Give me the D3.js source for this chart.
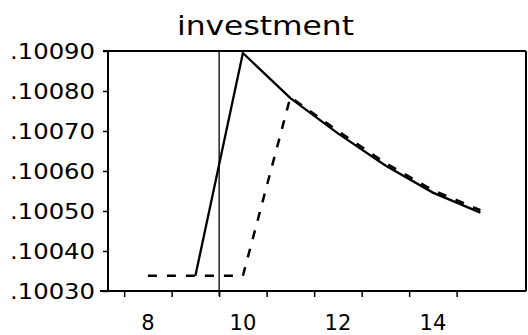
<!DOCTYPE html>
<html lang="en">
<head>
    <meta charset="UTF-8">
    <title>investment</title>
    <script src="https://d3js.org/d3.v7.min.js"></script>
    <style>
        body { margin: 0; background: #fff; }
        text { font-family: "DejaVu Sans", sans-serif; fill: #000; }
        .frame line { stroke: #000; stroke-width: 2px; }
        .tick line { stroke: #000; stroke-width: 1.5px; }
    </style>
</head>
<body>
<script>
    var width = 528, height = 335;

    // values
    var periods = [8, 9, 10, 11, 12, 13, 14, 15];
    var solidVals = [null, .100338, .100895, .100782, .100694, .100614, .100546, .100496];
    var dashedVals = [.100338, .100338, .100338, .100785, .100700, .100620, .100552, .100502];
    var xTickVals = [7.5, 8.5, 9.5, 10.5, 11.5, 12.5, 13.5, 14.5];
    var xLabelVals = [8, 10, 12, 14];
    var yTickVals = [.1003, .1004, .1005, .1006, .1007, .1008, .1009];
    var markerX = 9.5;

    var x = d3.scaleLinear().domain([7.16, 15.96]).range([108, 526]);
    var y = d3.scaleLinear().domain([.1003, .1009]).range([291, 51]);

    var svg = d3.select("body").append("svg")
        .attr("width", width)
        .attr("height", height);

    svg.append("text")
        .attr("x", 177)
        .attr("y", 35)
        .attr("textLength", 177)
        .attr("lengthAdjust", "spacingAndGlyphs")
        .style("font-size", "27px")
        .text("investment");

    // ticks
    var xAxis = svg.append("g")
        .attr("transform", "translate(0,291)")
        .call(d3.axisBottom(x).tickValues(xTickVals).tickSize(6).tickFormat(""));
    xAxis.select(".domain").remove();

    var yAxis = svg.append("g")
        .attr("transform", "translate(108,0)")
        .call(d3.axisLeft(y).tickValues(yTickVals).tickSize(5).tickFormat(""));
    yAxis.select(".domain").remove();

    // labels
    svg.append("g").selectAll("text")
        .data(xLabelVals)
        .enter().append("text")
        .attr("x", function(d) { return x(d); })
        .attr("y", 330)
        .attr("text-anchor", "middle")
        .style("font-size", "21px")
        .text(function(d) { return d; });

    svg.append("g").selectAll("text")
        .data(yTickVals)
        .enter().append("text")
        .attr("x", 10)
        .attr("y", function(d) { return y(d) + 7.5; })
        .attr("textLength", 85)
        .attr("lengthAdjust", "spacingAndGlyphs")
        .style("font-size", "20.5px")
        .text(function(d) { return d3.format(".5f")(d).replace(/^0/, ""); });

    // frame
    var frame = svg.append("g").attr("class", "frame");
    frame.append("line").attr("x1", 103).attr("x2", 526).attr("y1", 51).attr("y2", 51);
    frame.append("line").attr("x1", 100).attr("x2", 526).attr("y1", 291).attr("y2", 291);
    frame.append("line").attr("x1", 108).attr("x2", 108).attr("y1", 51).attr("y2", 291);
    frame.append("line").attr("x1", 526).attr("x2", 526).attr("y1", 51).attr("y2", 291);

    // vertical marker
    svg.append("line")
        .attr("x1", x(markerX)).attr("x2", x(markerX))
        .attr("y1", 51).attr("y2", 296)
        .attr("stroke", "#000")
        .attr("stroke-width", 1.3);

    var line = d3.line()
        .defined(function(d) { return d[1] !== null; })
        .x(function(d) { return x(d[0]); })
        .y(function(d) { return y(d[1]); });

    svg.append("path")
        .datum(d3.zip(periods, dashedVals))
        .attr("d", line)
        .attr("fill", "none")
        .attr("stroke", "#000")
        .attr("stroke-width", 2.5)
        .attr("stroke-dasharray", "9,10");

    svg.append("path")
        .datum(d3.zip(periods, solidVals))
        .attr("d", line)
        .attr("fill", "none")
        .attr("stroke", "#000")
        .attr("stroke-width", 2.3);
</script>
</body>
</html>
